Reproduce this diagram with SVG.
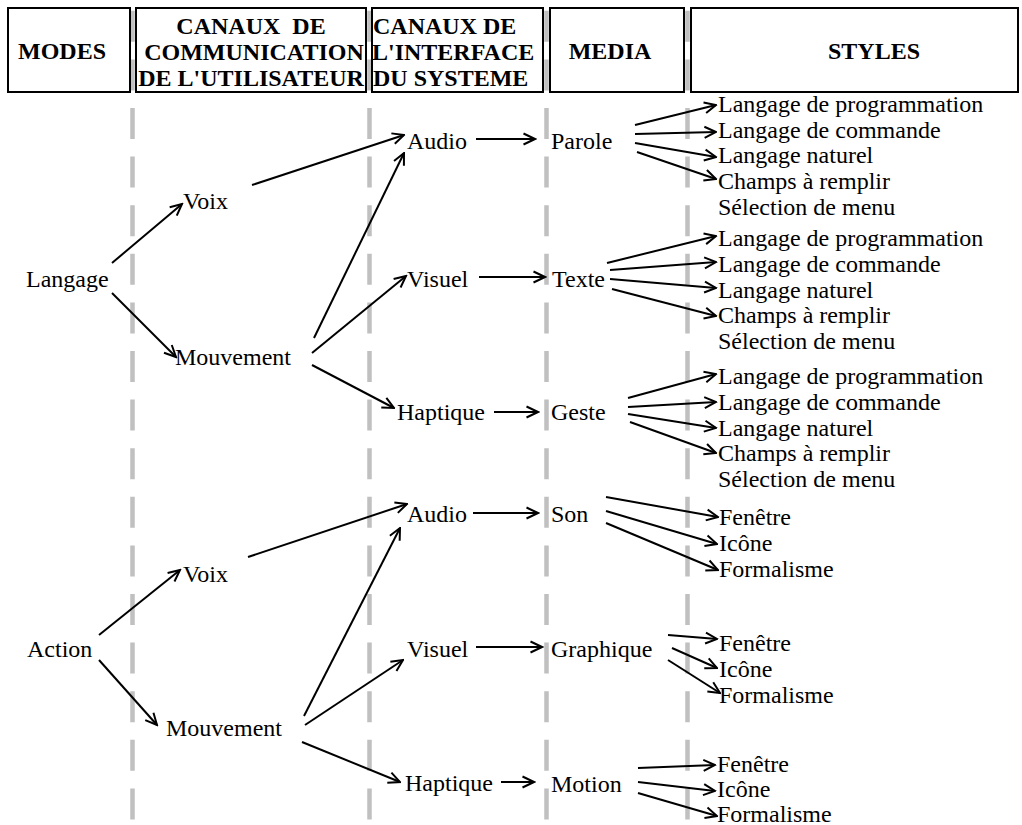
<svg xmlns="http://www.w3.org/2000/svg" width="1022" height="825" viewBox="0 0 1022 825">
<style>
.bg{fill:#ffffff}
.dash{stroke:#c0c0c0;stroke-width:4.5;stroke-dasharray:31 17.6;fill:none}
.box{fill:#ffffff;stroke:#000000;stroke-width:2}
.h{font-family:"Liberation Serif","Times New Roman",serif;font-weight:bold;font-size:24px;fill:#000000}
.t{font-family:"Liberation Serif","Times New Roman",serif;font-size:24px;fill:#000000}
.c line{stroke:#000000;stroke-width:2;fill:none;marker-end:url(#ah)}
</style>
<defs>
<marker id="ah" markerUnits="userSpaceOnUse" markerWidth="14" markerHeight="14" viewBox="0 0 14 14" refX="12.5" refY="7" orient="auto">
<path d="M1,1.5 L12.5,7 L1,12.5" fill="none" stroke="#000000" stroke-width="2"/>
</marker>
</defs>
<rect class="bg" x="0" y="0" width="1022" height="825"/>
<g id="guides">
<line class="dash" x1="132.5" y1="10.8" x2="132.5" y2="822"/>
<line class="dash" x1="369.5" y1="10.8" x2="369.5" y2="822"/>
<line class="dash" x1="546.5" y1="10.8" x2="546.5" y2="822"/>
<line class="dash" x1="687.5" y1="10.8" x2="687.5" y2="822"/>
</g>
<g id="header-modes"><rect class="box" x="8" y="8" width="122" height="84"/><text class="h" x="18" y="59">MODES</text></g>
<g id="header-canaux-utilisateur"><rect class="box" x="136" y="8" width="230" height="84"/>
<text class="h" text-anchor="middle" style="white-space:pre" x="251" y="34">CANAUX  DE</text>
<text class="h" text-anchor="middle" x="254" y="60">COMMUNICATION</text>
<text class="h" text-anchor="middle" x="251" y="86">DE L'UTILISATEUR</text></g>
<g id="header-canaux-systeme"><rect class="box" x="372" y="8" width="171" height="84"/>
<text class="h" x="373" y="34">CANAUX DE</text>
<text class="h" x="372" y="60">L'INTERFACE</text>
<text class="h" x="373" y="86">DU SYSTEME</text></g>
<g id="header-media"><rect class="box" x="550" y="8" width="134" height="84"/><text class="h" text-anchor="middle" x="610" y="59">MEDIA</text></g>
<g id="header-styles"><rect class="box" x="691" y="8" width="327" height="84"/><text class="h" text-anchor="middle" x="874" y="59">STYLES</text></g>

<g id="connectors" class="c">
<line x1="112" y1="263" x2="182" y2="204"/>
<line x1="112" y1="293" x2="176" y2="357"/>
<line x1="252" y1="185" x2="404" y2="135"/>
<line x1="314" y1="338" x2="404" y2="153"/>
<line x1="312" y1="353" x2="406" y2="276"/>
<line x1="312" y1="365" x2="394" y2="408"/>
<line x1="476" y1="139" x2="535" y2="139"/>
<line x1="479" y1="277" x2="545" y2="277"/>
<line x1="494" y1="412" x2="538" y2="412"/>
<line x1="635" y1="125" x2="716" y2="105"/>
<line x1="635" y1="134" x2="716" y2="132"/>
<line x1="635" y1="143" x2="716" y2="157"/>
<line x1="637" y1="152" x2="716" y2="179"/>
<line x1="607" y1="263" x2="716" y2="236"/>
<line x1="610" y1="270" x2="716" y2="262"/>
<line x1="610" y1="279" x2="716" y2="288"/>
<line x1="612" y1="289" x2="716" y2="316"/>
<line x1="628" y1="398" x2="716" y2="374"/>
<line x1="628" y1="407" x2="716" y2="402"/>
<line x1="628" y1="414" x2="716" y2="428"/>
<line x1="630" y1="422" x2="716" y2="453"/>
<line x1="99" y1="635" x2="180" y2="570"/>
<line x1="99" y1="660" x2="157" y2="725"/>
<line x1="248" y1="557" x2="407" y2="504"/>
<line x1="304" y1="716" x2="400" y2="528"/>
<line x1="305" y1="725" x2="403" y2="660"/>
<line x1="302" y1="742" x2="400" y2="782"/>
<line x1="473" y1="513" x2="538" y2="513"/>
<line x1="476" y1="647" x2="542" y2="647"/>
<line x1="501" y1="782" x2="534" y2="782"/>
<line x1="606" y1="497" x2="718" y2="517"/>
<line x1="606" y1="511" x2="717" y2="544"/>
<line x1="606" y1="523" x2="718" y2="570"/>
<line x1="668" y1="635" x2="717" y2="639"/>
<line x1="672" y1="648" x2="717" y2="668"/>
<line x1="668" y1="660" x2="720" y2="693"/>
<line x1="638" y1="768" x2="715" y2="765"/>
<line x1="638" y1="782" x2="715" y2="791"/>
<line x1="638" y1="793" x2="717" y2="816"/>
</g>

<g id="n-langage"><text class="t" x="26" y="287">Langage</text></g>
<g id="n-voix1"><text class="t" x="183" y="209">Voix</text></g>
<g id="n-mouvement1"><text class="t" x="175" y="365">Mouvement</text></g>
<g id="n-audio1"><text class="t" x="407" y="149">Audio</text></g>
<g id="n-visuel1"><text class="t" x="407" y="287">Visuel</text></g>
<g id="n-haptique1"><text class="t" x="397" y="420">Haptique</text></g>
<g id="n-parole"><text class="t" x="551" y="149">Parole</text></g>
<g id="n-texte"><text class="t" x="552" y="287">Texte</text></g>
<g id="n-geste"><text class="t" x="551" y="420">Geste</text></g>
<g id="s-parole">
<text class="t" x="718" y="112">Langage de programmation</text>
<text class="t" x="718" y="138">Langage de commande</text>
<text class="t" x="718" y="163">Langage naturel</text>
<text class="t" x="718" y="189">Champs à remplir</text>
<text class="t" x="718" y="215">Sélection de menu</text>
</g>
<g id="s-texte">
<text class="t" x="718" y="246">Langage de programmation</text>
<text class="t" x="718" y="272">Langage de commande</text>
<text class="t" x="718" y="298">Langage naturel</text>
<text class="t" x="718" y="323">Champs à remplir</text>
<text class="t" x="718" y="349">Sélection de menu</text>
</g>
<g id="s-geste">
<text class="t" x="718" y="384">Langage de programmation</text>
<text class="t" x="718" y="410">Langage de commande</text>
<text class="t" x="718" y="436">Langage naturel</text>
<text class="t" x="718" y="461">Champs à remplir</text>
<text class="t" x="718" y="487">Sélection de menu</text>
</g>
<g id="n-action"><text class="t" x="27" y="657">Action</text></g>
<g id="n-voix2"><text class="t" x="183" y="582">Voix</text></g>
<g id="n-mouvement2"><text class="t" x="166" y="736">Mouvement</text></g>
<g id="n-audio2"><text class="t" x="407" y="522">Audio</text></g>
<g id="n-visuel2"><text class="t" x="407" y="657">Visuel</text></g>
<g id="n-haptique2"><text class="t" x="405" y="791">Haptique</text></g>
<g id="n-son"><text class="t" x="551" y="522">Son</text></g>
<g id="n-graphique"><text class="t" x="551" y="657">Graphique</text></g>
<g id="n-motion"><text class="t" x="551" y="792">Motion</text></g>
<g id="s-son">
<text class="t" x="719" y="525">Fenêtre</text>
<text class="t" x="719" y="551">Icône</text>
<text class="t" x="719" y="577">Formalisme</text>
</g>
<g id="s-graphique">
<text class="t" x="719" y="651">Fenêtre</text>
<text class="t" x="719" y="677">Icône</text>
<text class="t" x="719" y="703">Formalisme</text>
</g>
<g id="s-motion">
<text class="t" x="717" y="772">Fenêtre</text>
<text class="t" x="717" y="797">Icône</text>
<text class="t" x="717" y="822">Formalisme</text>
</g>
</svg>
